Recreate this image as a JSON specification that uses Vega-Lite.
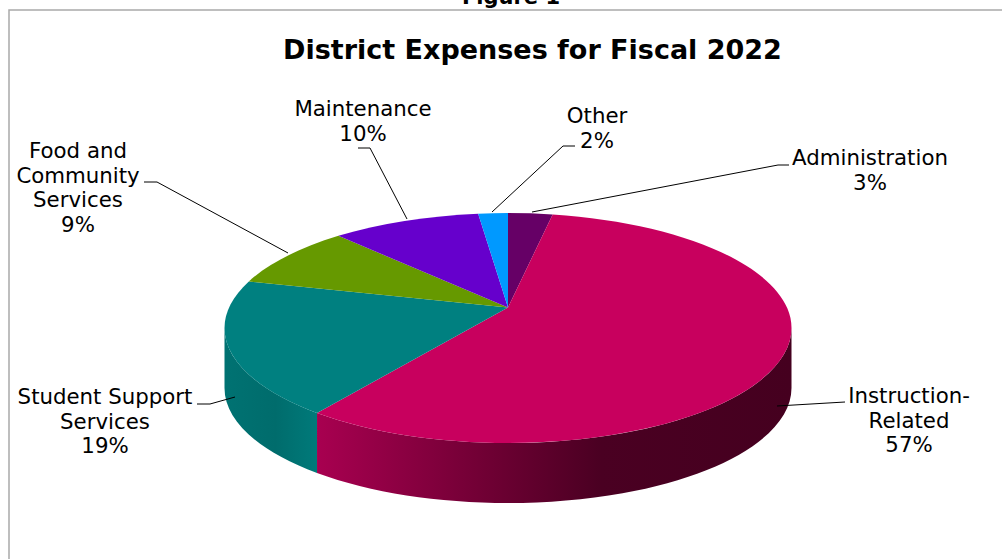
{
"$schema":"https://vega.github.io/schema/vega-lite/v6.json",
"width":1002,"height":559,"padding":0,"autosize":"none","background":"white",
"config":{"view":{"stroke":null}},
"title":{"text":"District Expenses for Fiscal 2022","anchor":"start","frame":"group","dx":283,"dy":39,"offset":-60,"baseline":"alphabetic","font":"DejaVu Sans","fontSize":27,"fontWeight":"bold","color":"#000000"},
"params":[{"name":"rx","value":283.5},{"name":"ry","value":115},{"name":"cx","value":7},{"name":"cy","value":48.5},{"name":"d","value":-0.174},{"name":"h","value":60}],
"data":{"values":[
{"category":"Administration","label":"Administration","value":3},
{"category":"Instruction-Related","label":"Instruction-\nRelated","value":57},
{"category":"Student Support Services","label":"Student Support\nServices","value":19},
{"category":"Food and Community Services","label":"Food and\nCommunity\nServices","value":9},
{"category":"Maintenance","label":"Maintenance","value":10},
{"category":"Other","label":"Other","value":2}
]},
"transform":[
{"window":[{"op":"sum","field":"value","as":"cum"}]},
{"joinaggregate":[{"op":"sum","field":"value","as":"total"}]},
{"calculate":"2*PI*(datum.cum-datum.value)/datum.total","as":"a0"},
{"calculate":"2*PI*datum.cum/datum.total","as":"a1"},
{"calculate":"round(100*(cx+rx*sqrt(1-d*d)*sin(datum.a0)/(1-d*cos(datum.a0))))/100","as":"x0"},
{"calculate":"round(100*(cy+ry*(d-cos(datum.a0))/(1-d*cos(datum.a0))))/100","as":"y0"},
{"calculate":"round(100*(cx+rx*sqrt(1-d*d)*sin(datum.a1)/(1-d*cos(datum.a1))))/100","as":"x1"},
{"calculate":"round(100*(cy+ry*(d-cos(datum.a1))/(1-d*cos(datum.a1))))/100","as":"y1"},
{"calculate":"'M'+cx+','+round(cy+ry*d)+'L'+datum.x0+','+datum.y0+'A'+rx+','+ry+' 0 '+(datum.value/datum.total>0.5?1:0)+' 1 '+datum.x1+','+datum.y1+'Z'","as":"facePath"},
{"calculate":"datum.y0<cy?cx+rx:datum.x0","as":"wx0"},
{"calculate":"datum.y0<cy?cy:datum.y0","as":"wy0"},
{"calculate":"datum.y1<cy?cx-rx:datum.x1","as":"wx1"},
{"calculate":"datum.y1<cy?cy:datum.y1","as":"wy1"},
{"calculate":"'M'+datum.wx0+','+datum.wy0+'A'+rx+','+ry+' 0 0 1 '+datum.wx1+','+datum.wy1+'L'+datum.wx1+','+(datum.wy1+h)+'A'+rx+','+ry+' 0 0 0 '+datum.wx0+','+(datum.wy0+h)+'Z'","as":"wallPath"}
],
"layer":[
{"data":{"values":[{"item":"frame"}]},"transform":[],
 "mark":{"type":"point","shape":"M-492,279.5L-492,-269.5L501,-269.5","size":4,"filled":false,"stroke":"#a9a9a9","strokeWidth":1.5,"opacity":1},"encoding":{}},
{"data":{"values":[{"item":"Figure 1"}]},"transform":[],
 "mark":{"type":"text","dx":10,"dy":-276,"align":"center","baseline":"alphabetic","font":"DejaVu Sans","fontSize":21,"fontWeight":"bold","color":"#000000"},"encoding":{"text":{"field":"item"}}},
{"transform":[{"filter":"datum.category==='Instruction-Related'"}],
 "mark":{"type":"point","filled":true,"size":4,"opacity":1,"strokeWidth":0,"fill":{"gradient":"linear","x1":0,"x2":1,"y1":0,"y2":0,"stops":[{"offset":0,"color":"#a80050"},{"offset":0.38,"color":"#6c0032"},{"offset":0.6,"color":"#4a0022"},{"offset":1,"color":"#45001f"}]}},
 "encoding":{"shape":{"field":"wallPath","type":"nominal","scale":null,"legend":null}}},
{"transform":[{"filter":"datum.category==='Student Support Services'"}],
 "mark":{"type":"point","filled":true,"size":4,"opacity":1,"strokeWidth":0,"fill":{"gradient":"linear","x1":0,"x2":1,"y1":0,"y2":0,"stops":[{"offset":0,"color":"#007272"},{"offset":0.55,"color":"#006c6c"},{"offset":1,"color":"#007a7a"}]}},
 "encoding":{"shape":{"field":"wallPath","type":"nominal","scale":null,"legend":null}}},
{"mark":{"type":"point","filled":true,"size":4,"opacity":1,"strokeWidth":0},
 "encoding":{"shape":{"field":"facePath","type":"nominal","scale":null,"legend":null},
  "color":{"field":"category","type":"nominal","legend":null,"scale":{"domain":["Administration","Instruction-Related","Student Support Services","Food and Community Services","Maintenance","Other"],"range":["#660066","#c8005e","#008080","#669900","#6600cc","#0099ff"]}}}},
{"transform":[{"calculate":"{'Administration':'M31,-67.5L277,-114.5L288,-114.5','Instruction-Related':'M276,126.5L344,122.5','Student Support Services':'M-266,117.5L-291,124.5L-304,124.5','Food and Community Services':'M-213,-26.5L-344,-97.5L-357,-97.5','Maintenance':'M-94,-60.5L-131,-131.5L-143,-131.5','Other':'M-9,-67.5L62,-133.5L74,-133.5'}[datum.category]","as":"leader"}],
 "mark":{"type":"point","filled":false,"size":4,"opacity":1,"stroke":"#000000","strokeWidth":1},
 "encoding":{"shape":{"field":"leader","type":"nominal","scale":null,"legend":null}}},
{"transform":[
 {"calculate":"datum.label+'\\n'+datum.value+'%'","as":"text"},
 {"calculate":"{'Administration':870,'Instruction-Related':909,'Student Support Services':105,'Food and Community Services':78,'Maintenance':363,'Other':597}[datum.category]","as":"lx"},
 {"calculate":"{'Administration':165,'Instruction-Related':403,'Student Support Services':404,'Food and Community Services':158,'Maintenance':116,'Other':123}[datum.category]","as":"ly"}],
 "mark":{"type":"text","align":"center","baseline":"alphabetic","lineBreak":"\n","lineHeight":24.5,"font":"DejaVu Sans","fontSize":21.3,"color":"#000000"},
 "encoding":{"x":{"field":"lx","type":"quantitative","scale":null,"axis":null},"y":{"field":"ly","type":"quantitative","scale":null,"axis":null},"text":{"field":"text"}}}
]
}
